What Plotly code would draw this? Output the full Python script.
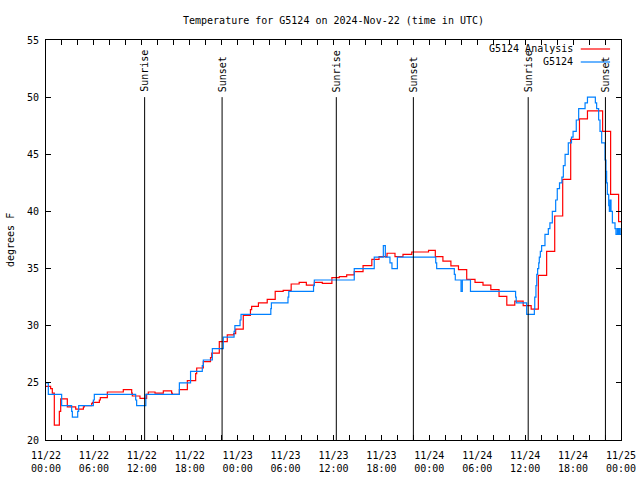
import pandas as pd
import plotly.graph_objects as go

START = "2024-11-22 00:00"
TITLE = "Temperature for G5124 on 2024-Nov-22 (time in UTC)"
Y_TITLE = "degrees F"

# observed station G5124 (hours since start, deg F)
obs_hours = [0.0, 0.29, 1.96, 3.21, 3.30, 3.97, 4.09, 5.93, 6.05, 11.23, 11.35, 12.50,
             16.70, 18.10, 19.57, 19.70, 20.83, 22.20, 23.55, 23.65, 24.30, 24.42,
             28.15, 28.22, 30.30, 30.40, 33.50, 33.60, 38.60, 41.10, 42.24, 42.49,
             43.07, 43.32, 44.00, 48.80, 48.92, 51.13, 51.25, 51.97, 52.13, 53.15,
             58.80, 58.88, 60.19, 61.15, 61.20, 61.35, 61.45, 61.56, 61.70, 61.77,
             61.90, 62.06, 62.48, 62.90, 63.10, 63.40, 63.82, 64.02, 64.30, 64.60,
             64.78, 65.00, 65.40, 65.80, 66.00, 66.40, 66.70, 67.50, 67.80, 68.79,
             68.95, 69.20, 69.37, 69.58, 70.00, 70.12, 70.20, 70.29, 70.46, 70.54,
             70.62, 70.75, 70.92, 71.25, 71.37, 71.54, 71.67, 71.79, 71.90, 72.00]
obs_temp = [25.0, 24.0, 23.0, 22.5, 22.0, 22.5, 23.0, 23.5, 24.0, 23.5, 23.0, 24.0,
            25.0, 26.0, 26.5, 27.0, 28.0, 29.0, 29.5, 30.0, 30.5, 31.0,
            31.5, 32.0, 32.5, 33.0, 33.5, 34.0, 35.0, 36.0, 37.0, 36.0,
            35.5, 35.0, 36.0, 35.5, 35.0, 34.5, 34.0, 33.0, 34.0, 33.0,
            32.5, 32.0, 31.0, 31.5, 32.5, 33.5, 34.5, 35.0, 35.5, 36.0,
            36.5, 37.0, 38.0, 38.5, 39.0, 40.0, 41.0, 42.0, 42.5, 43.0,
            44.0, 45.0, 46.0, 46.5, 47.0, 48.0, 49.0, 49.5, 50.0, 49.5,
            49.0, 48.0, 47.0, 46.0, 44.5, 43.5, 42.5, 41.5, 40.5, 40.0,
            41.0, 40.0, 39.0, 38.5, 38.0, 38.5, 38.0, 38.5, 38.0, 38.0]

# analysis series (hours since start, deg F)
ana_hours = [0.0, 0.58, 0.79, 1.04, 1.67, 1.84, 2.67, 3.72, 4.68, 4.80, 5.72, 5.84,
             6.68, 6.80, 7.68, 9.68, 10.73, 10.81, 11.77, 12.60, 12.81, 13.65, 14.69,
             15.73, 15.82, 16.70, 17.70, 18.74, 18.87, 19.70, 20.60, 20.75, 21.70,
             22.70, 23.50, 23.75, 24.70, 25.60, 25.75, 26.60, 27.70, 28.70, 29.70,
             30.70, 31.70, 32.60, 33.60, 34.60, 35.80, 36.73, 37.65, 38.60, 39.70,
             40.80, 41.70, 42.70, 43.70, 44.70, 45.80, 47.90, 48.75, 49.70, 50.70,
             51.65, 52.68, 53.72, 54.72, 55.70, 56.73, 57.70, 58.70, 59.75, 60.75,
             61.65, 62.69, 63.70, 64.70, 65.70, 66.80, 67.80, 69.70, 70.70, 71.70, 72.00]
ana_temp = [24.7, 24.5, 24.1, 21.3, 22.5, 23.6, 22.9, 22.7, 22.9, 23.0, 23.2, 23.3,
            23.5, 23.7, 24.2, 24.4, 24.1, 23.85, 23.65, 24.0, 24.2, 24.1, 24.3,
            24.1, 24.0, 24.4, 25.2, 25.8, 26.3, 26.85, 27.2, 27.6, 28.6,
            29.2, 29.3, 29.7, 30.9, 31.4, 31.7, 32.0, 32.3, 33.0, 33.1,
            33.65, 33.8, 33.56, 33.8, 33.7, 34.2, 34.3, 34.44, 34.73, 35.26,
            35.81, 36.04, 36.34, 36.04, 36.25, 36.45, 36.6, 36.05, 35.65, 35.24,
            34.9, 34.06, 33.8, 33.56, 33.15, 32.57, 31.8, 32.15, 31.75, 31.45,
            34.4, 36.5, 39.6, 42.8, 46.3, 48.1, 48.8, 47.0, 41.5, 39.1, 39.1]

# sun events (hours since start)
event_hours = [12.35, 22.05, 36.35, 46.0, 60.38, 70.05]
event_labels = ["Sunrise", "Sunset", "Sunrise", "Sunset", "Sunrise", "Sunset"]
event_top = 50
legend_names = ["G5124 Analysis", "G5124"]

RED = "#ff0000"
BLUE = "#0080ff"
FONT = dict(family="DejaVu Sans Mono", size=10, color="black")

t0 = pd.Timestamp(START)
def to_time(hours):
    return [t0 + pd.Timedelta(hours=h) for h in hours]

fig = go.Figure()
fig.add_trace(go.Scatter(x=to_time(ana_hours), y=ana_temp, mode="lines",
                         line=dict(color=RED, width=1.2, shape="hv"),
                         name=legend_names[0], showlegend=False))
fig.add_trace(go.Scatter(x=to_time(obs_hours), y=obs_temp, mode="lines",
                         line=dict(color=BLUE, width=1.2, shape="hv"),
                         name=legend_names[1], showlegend=False))

for t, lab in zip(to_time(event_hours), event_labels):
    fig.add_shape(type="line", x0=t, x1=t, y0=20, y1=event_top, xref="x", yref="y",
                  line=dict(color="black", width=1))
    fig.add_annotation(x=t, y=event_top, xref="x", yref="y", text=lab, textangle=-90,
                       showarrow=False, xanchor="center", yanchor="bottom", yshift=3,
                       font=FONT)

# legend drawn gnuplot-style: text then sample line
for i, (name, col) in enumerate(zip(legend_names, [RED, BLUE])):
    yp = 0.9775 - i * 0.0325
    fig.add_annotation(x=0.92, y=yp, xref="paper", yref="paper", text=name,
                       showarrow=False, xanchor="right", yanchor="middle", font=FONT)
    fig.add_shape(type="line", x0=0.930, x1=0.981, y0=yp, y1=yp, xref="paper",
                  yref="paper", line=dict(color=col, width=1.2))

fig.add_annotation(x=-36 / 575, y=0.5, xref="paper", yref="paper", text=Y_TITLE,
                   textangle=-90, showarrow=False, xanchor="center", yanchor="middle",
                   font=FONT)

axis_common = dict(showline=True, mirror="ticks", linecolor="black", linewidth=1,
                   ticks="inside", ticklen=5, tickcolor="black", tickwidth=1,
                   showgrid=False, zeroline=False, tickfont=FONT, automargin=False)

fig.update_xaxes(type="date", range=[t0, t0 + pd.Timedelta(hours=72)],
                 tick0=t0, dtick=6 * 3600 * 1000, tickformat="%m/%d<br>%H:%M",
                 ticklabelstandoff=6,
                 minor=dict(dtick=2 * 3600 * 1000, ticks="inside", ticklen=5,
                            tickcolor="black", showgrid=False),
                 **axis_common)
fig.update_yaxes(range=[20, 55], dtick=5, tick0=20, ticklabelstandoff=4, **axis_common)

fig.update_layout(
    width=640, height=480,
    margin=dict(l=46, r=19, t=40, b=40),
    paper_bgcolor="white", plot_bgcolor="white",
    title=dict(text=TITLE, x=333.5 / 640, xanchor="center", y=1 - 20 / 480,
               yanchor="middle", font=FONT),
    font=FONT,
)

fig.write_html("out.html", config={"displayModeBar": False},
               post_script="document.body.style.margin='0';document.body.style.overflow='hidden';")
